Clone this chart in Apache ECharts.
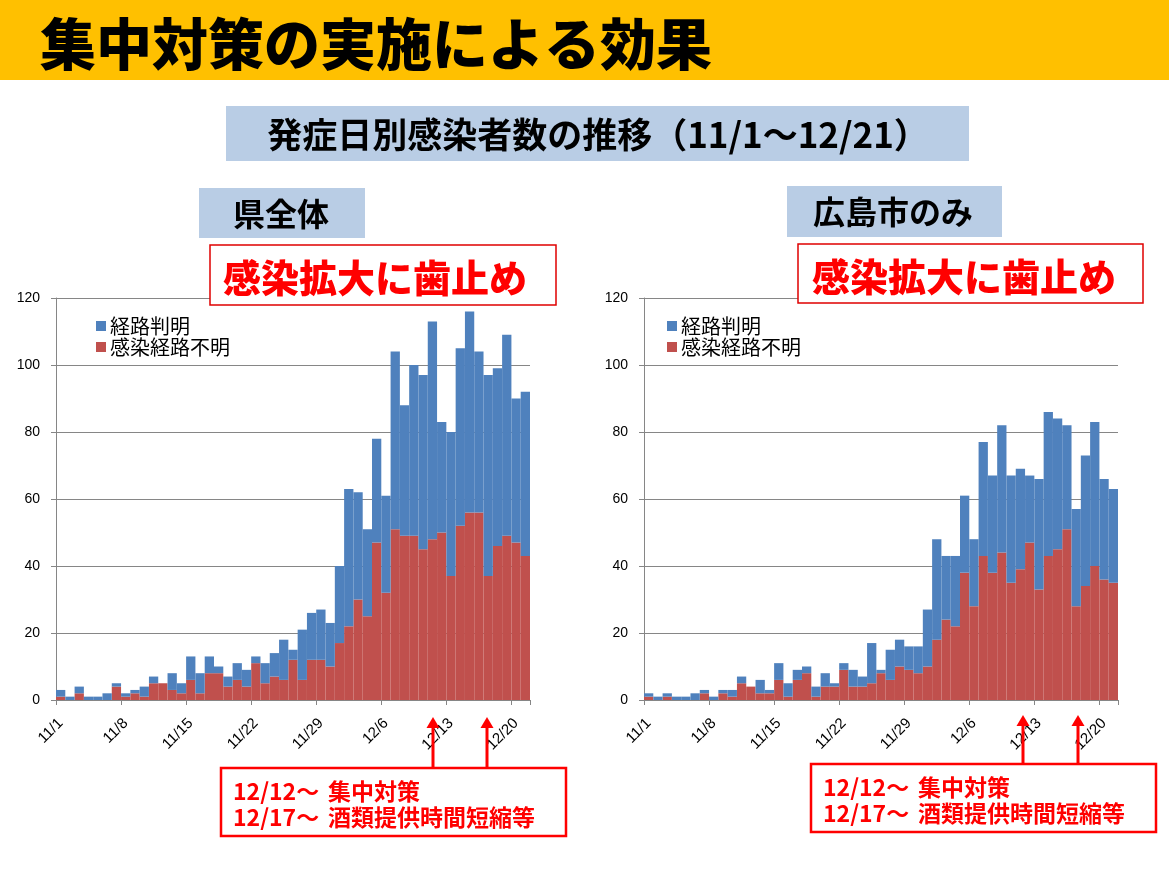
<!DOCTYPE html>
<html><head><meta charset="utf-8">
<script src="https://cdn.jsdelivr.net/npm/echarts@6/dist/echarts.min.js"></script>
<style>html,body{margin:0;padding:0;background:#fff}#c{width:1169px;height:872px}</style>
</head><body><div id="c"></div>
<script>
const dates = ['11/1','11/2','11/3','11/4','11/5','11/6','11/7','11/8','11/9','11/10','11/11','11/12','11/13','11/14','11/15','11/16','11/17','11/18','11/19','11/20','11/21','11/22','11/23','11/24','11/25','11/26','11/27','11/28','11/29','11/30','12/1','12/2','12/3','12/4','12/5','12/6','12/7','12/8','12/9','12/10','12/11','12/12','12/13','12/14','12/15','12/16','12/17','12/18','12/19','12/20','12/21'];
const yTicks = [0,20,40,60,80,100,120];
// 県全体
const prefKnown   = [2,1,2,1,1,2,1,1,1,3,2,0,5,3,7,6,5,2,3,5,5,2,6,7,12,3,15,14,15,13,23,41,32,26,31,29,53,39,51,52,65,33,43,53,60,48,60,53,60,43,49];
const prefUnknown = [1,0,2,0,0,0,4,1,2,1,5,5,3,2,6,2,8,8,4,6,4,11,5,7,6,12,6,12,12,10,17,22,30,25,47,32,51,49,49,45,48,50,37,52,56,56,37,46,49,47,43];
// 広島市のみ
const cityKnown   = [1,1,1,1,1,2,1,1,1,2,2,0,4,1,5,4,3,2,3,4,1,2,5,3,12,1,9,8,7,8,17,30,19,21,23,20,34,29,38,32,30,20,33,43,39,31,29,39,43,30,28];
const cityUnknown = [1,0,1,0,0,0,2,0,2,1,5,4,2,2,6,1,6,8,1,4,4,9,4,4,5,8,6,10,9,8,10,18,24,22,38,28,43,38,44,35,39,47,33,43,45,51,28,34,40,36,35];
const seriesNames = ['経路判明','感染経路不明'];

const JP = '"Noto Sans CJK JP", "Noto Sans", sans-serif';
const LAT = '"Liberation Sans", sans-serif';
const BLUE = '#4F81BD', RED = '#C0504D', GRID = '#868686';

function xAxis(i){
  return {type:'category', gridIndex:i, data:dates, boundaryGap:true,
    axisLine:{lineStyle:{color:GRID}},
    axisTick:{show:true, interval:6, length:5, lineStyle:{color:GRID}},
    axisLabel:{interval:6, rotate:45, fontSize:15, color:'#000', margin:21, fontFamily:LAT}};
}
function yAxis(i){
  return {type:'value', gridIndex:i, min:yTicks[0], max:yTicks[yTicks.length-1], interval:yTicks[1]-yTicks[0],
    axisLine:{show:true, lineStyle:{color:GRID}},
    axisTick:{show:true, length:5, lineStyle:{color:GRID}},
    splitLine:{lineStyle:{color:GRID, width:1}},
    axisLabel:{fontSize:14, color:'#000', margin:16, fontFamily:LAT}};
}
function legend(left){
  return {left:left, top:316, orient:'vertical', padding:0, data:seriesNames, itemWidth:10, itemHeight:10, itemGap:1,
    icon:'rect', selectedMode:false, textStyle:{fontSize:20, color:'#000', fontFamily:JP, padding:[0,0,0,-1]}};
}
function bars(i, name, data, color){
  return {type:'bar', name:name, xAxisIndex:i, yAxisIndex:i, stack:'s'+i, data:data,
    barCategoryGap:'0%', itemStyle:{color:color}, animation:false};
}
function arrow(x, tipY, baseY){
  return [
    {type:'line', shape:{x1:x, y1:baseY, x2:x, y2:tipY+8}, style:{stroke:'#FF0000', lineWidth:3}, z:100},
    {type:'polygon', shape:{points:[[x-6.5,tipY+11],[x,tipY],[x+6.5,tipY+11]]}, style:{fill:'#FF0000'}, z:100}
  ];
}
function annot(x, y){
  const f = 'bold 23px '+JP;
  return [
    {type:'rect', shape:{x:x, y:y, width:345, height:68}, style:{fill:'#fff', stroke:'#FF0000', lineWidth:2.5}, z:100},
    {type:'text', x:x+12, y:y+23, style:{text:'12/12～', fill:'#FF0000', font:f, verticalAlign:'middle'}, z:101},
    {type:'text', x:x+107, y:y+23, style:{text:'集中対策', fill:'#FF0000', font:f, verticalAlign:'middle'}, z:101},
    {type:'text', x:x+12, y:y+49, style:{text:'12/17～', fill:'#FF0000', font:f, verticalAlign:'middle'}, z:101},
    {type:'text', x:x+107, y:y+49, style:{text:'酒類提供時間短縮等', fill:'#FF0000', font:f, verticalAlign:'middle'}, z:101}
  ];
}

const chart = echarts.init(document.getElementById('c'), null, {renderer:'canvas'});
chart.setOption({
  animation:false,
  backgroundColor:'#fff',
  grid:[{left:56, top:298, width:474, height:402}, {left:644, top:298, width:474, height:402}],
  xAxis:[xAxis(0), xAxis(1)],
  yAxis:[yAxis(0), yAxis(1)],
  legend:[legend(96), legend(667)],
  series:[
    bars(0, seriesNames[1], prefUnknown, RED),
    bars(0, seriesNames[0], prefKnown, BLUE),
    bars(1, seriesNames[1], cityUnknown, RED),
    bars(1, seriesNames[0], cityKnown, BLUE)
  ],
  graphic:[
    {type:'rect', shape:{x:0, y:0, width:1169, height:80}, style:{fill:'#FFC000'}, z:50},
    {type:'text', x:40, y:44, style:{text:'集中対策の実施による効果', fill:'#000', font:'900 56px '+JP, verticalAlign:'middle'}, z:51},
    {type:'rect', shape:{x:226, y:106, width:743, height:55}, style:{fill:'#B9CDE5'}, z:50},
    {type:'text', x:598, y:135, style:{text:'発症日別感染者数の推移（11/1～12/21）', fill:'#000', font:'bold 35px '+JP, align:'center', verticalAlign:'middle'}, z:51},
    {type:'rect', shape:{x:199, y:188, width:166, height:50}, style:{fill:'#B9CDE5'}, z:50},
    {type:'text', x:281, y:214, style:{text:'県全体', fill:'#000', font:'bold 32px '+JP, align:'center', verticalAlign:'middle'}, z:51},
    {type:'rect', shape:{x:787, y:186, width:215, height:51}, style:{fill:'#B9CDE5'}, z:50},
    {type:'text', x:893, y:212, style:{text:'広島市のみ', fill:'#000', font:'bold 32px '+JP, align:'center', verticalAlign:'middle'}, z:51},
    {type:'rect', shape:{x:210, y:245, width:346, height:60}, style:{fill:'#fff', stroke:'#E00000', lineWidth:1.5}, z:50},
    {type:'text', x:375, y:278, style:{text:'感染拡大に歯止め', fill:'#FF0000', font:'900 38px '+JP, align:'center', verticalAlign:'middle'}, z:51},
    {type:'rect', shape:{x:798, y:244, width:345, height:59}, style:{fill:'#fff', stroke:'#E00000', lineWidth:1.5}, z:50},
    {type:'text', x:964, y:277, style:{text:'感染拡大に歯止め', fill:'#FF0000', font:'900 38px '+JP, align:'center', verticalAlign:'middle'}, z:51}
  ].concat(arrow(433, 717, 768), arrow(487, 717, 768), annot(221, 768),
           arrow(1023, 715, 764), arrow(1078, 715, 764), annot(811, 764))
});
</script>
</body></html>
